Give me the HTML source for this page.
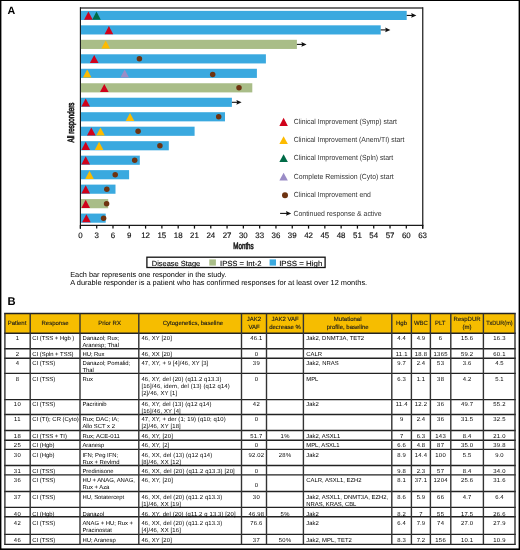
<!DOCTYPE html>
<html><head><meta charset="utf-8"><style>
html,body{margin:0;padding:0;background:#fff;}
svg{display:block;will-change:transform;}
svg text{font-family:"Liberation Sans", sans-serif;text-rendering:geometricPrecision;}
.t{letter-spacing:0.12px;}
</style></head><body>
<svg width="520" height="550" viewBox="0 0 520 550">
<rect width="520" height="550" fill="#fff"/>
<rect x="0" y="0" width="1.4" height="550" fill="#000"/>
<rect x="0" y="0" width="520" height="1.0" fill="#000"/>
<rect x="518.6" y="0" width="1.4" height="550" fill="#000"/>
<rect x="0" y="548.4" width="520" height="1.6" fill="#000"/>
<text x="7.60" y="14.00" font-size="10.7" fill="#000" font-weight="bold">A</text>
<text x="7.60" y="304.80" font-size="11.2" fill="#000" font-weight="bold">B</text>
<rect x="80.9" y="10.85" width="325.80" height="9.15" fill="#3aa9df"/>
<line x1="406.70" y1="15.43" x2="412.20" y2="15.43" stroke="#111" stroke-width="1.1"/>
<path d="M416.40 15.43L411.20 13.03L411.90 15.43L411.20 17.82Z" fill="#111"/>
<path d="M84.10 19.65L88.40 11.55L92.70 19.65Z" fill="#d0021b"/>
<path d="M92.20 19.65L96.50 11.55L100.80 19.65Z" fill="#006b47"/>
<rect x="80.9" y="25.33" width="299.80" height="9.15" fill="#3aa9df"/>
<line x1="380.70" y1="29.90" x2="386.20" y2="29.90" stroke="#111" stroke-width="1.1"/>
<path d="M390.40 29.90L385.20 27.50L385.90 29.90L385.20 32.30Z" fill="#111"/>
<path d="M104.60 34.13L108.90 26.03L113.20 34.13Z" fill="#d0021b"/>
<rect x="80.9" y="39.81" width="216.00" height="9.15" fill="#a9bd88"/>
<line x1="296.90" y1="44.39" x2="302.40" y2="44.39" stroke="#111" stroke-width="1.1"/>
<path d="M306.60 44.39L301.40 41.99L302.10 44.39L301.40 46.79Z" fill="#111"/>
<path d="M101.40 48.61L105.70 40.51L110.00 48.61Z" fill="#fdbb00"/>
<rect x="80.9" y="54.29" width="185.00" height="9.15" fill="#3aa9df"/>
<path d="M89.90 63.09L94.20 54.99L98.50 63.09Z" fill="#d0021b"/>
<circle cx="139.40" cy="58.87" r="2.75" fill="#6e3310"/>
<rect x="80.9" y="68.77" width="176.00" height="9.15" fill="#3aa9df"/>
<path d="M82.90 77.57L87.20 69.47L91.50 77.57Z" fill="#fdbb00"/>
<path d="M120.40 77.57L124.70 69.47L129.00 77.57Z" fill="#9a8cc6"/>
<circle cx="212.70" cy="74.44" r="2.75" fill="#6e3310"/>
<rect x="80.9" y="83.25" width="171.40" height="9.15" fill="#a9bd88"/>
<path d="M100.00 92.05L104.30 83.95L108.60 92.05Z" fill="#d0021b"/>
<circle cx="239.00" cy="87.83" r="2.75" fill="#6e3310"/>
<rect x="80.9" y="97.73" width="151.00" height="9.15" fill="#3aa9df"/>
<line x1="231.90" y1="102.30" x2="237.40" y2="102.30" stroke="#111" stroke-width="1.1"/>
<path d="M241.60 102.30L236.40 99.90L237.10 102.30L236.40 104.70Z" fill="#111"/>
<path d="M81.40 106.53L85.70 98.43L90.00 106.53Z" fill="#d0021b"/>
<rect x="80.9" y="112.21" width="144.10" height="9.15" fill="#3aa9df"/>
<path d="M125.70 121.01L130.00 112.91L134.30 121.01Z" fill="#fdbb00"/>
<circle cx="218.70" cy="116.78" r="2.75" fill="#6e3310"/>
<rect x="80.9" y="126.69" width="113.70" height="9.15" fill="#3aa9df"/>
<path d="M87.00 135.49L91.30 127.39L95.60 135.49Z" fill="#d0021b"/>
<path d="M96.20 135.49L100.50 127.39L104.80 135.49Z" fill="#fdbb00"/>
<circle cx="138.10" cy="131.26" r="2.75" fill="#6e3310"/>
<rect x="80.9" y="141.17" width="87.90" height="9.15" fill="#3aa9df"/>
<path d="M81.40 149.97L85.70 141.87L90.00 149.97Z" fill="#d0021b"/>
<path d="M94.80 149.97L99.10 141.87L103.40 149.97Z" fill="#fdbb00"/>
<circle cx="159.90" cy="145.74" r="2.75" fill="#6e3310"/>
<rect x="80.9" y="155.65" width="58.90" height="9.15" fill="#3aa9df"/>
<path d="M81.40 164.45L85.70 156.35L90.00 164.45Z" fill="#d0021b"/>
<circle cx="134.70" cy="160.22" r="2.75" fill="#6e3310"/>
<rect x="80.9" y="170.13" width="48.20" height="9.15" fill="#3aa9df"/>
<path d="M85.20 178.93L89.50 170.83L93.80 178.93Z" fill="#fdbb00"/>
<circle cx="115.20" cy="174.70" r="2.75" fill="#6e3310"/>
<rect x="80.9" y="184.61" width="34.60" height="9.15" fill="#3aa9df"/>
<path d="M81.40 193.41L85.70 185.31L90.00 193.41Z" fill="#d0021b"/>
<circle cx="106.80" cy="189.18" r="2.75" fill="#6e3310"/>
<rect x="80.9" y="199.09" width="27.30" height="9.15" fill="#a9bd88"/>
<path d="M81.40 207.89L85.70 199.79L90.00 207.89Z" fill="#d0021b"/>
<circle cx="106.60" cy="203.66" r="2.75" fill="#6e3310"/>
<rect x="80.9" y="213.57" width="24.80" height="9.15" fill="#3aa9df"/>
<path d="M82.10 222.37L86.40 214.27L90.70 222.37Z" fill="#d0021b"/>
<circle cx="103.60" cy="218.14" r="2.75" fill="#6e3310"/>
<line x1="80.4" y1="8" x2="422.8" y2="8" stroke="#444" stroke-width="1.5"/>
<line x1="422.75" y1="7.3" x2="422.75" y2="228.7" stroke="#1e1e1e" stroke-width="1.25"/>
<line x1="80.4" y1="7.3" x2="80.4" y2="228.7" stroke="#111" stroke-width="1.1"/>
<line x1="79.9" y1="225.4" x2="423.4" y2="225.4" stroke="#1a1a1a" stroke-width="1.2"/>
<line x1="80.40" y1="225.4" x2="80.40" y2="228.6" stroke="#111" stroke-width="1.25"/>
<text x="80.40" y="237.60" font-size="7.9" fill="#111" text-anchor="middle" stroke="#111" stroke-width="0.15">0</text>
<line x1="96.70" y1="225.4" x2="96.70" y2="228.6" stroke="#111" stroke-width="1.25"/>
<text x="96.70" y="237.60" font-size="7.9" fill="#111" text-anchor="middle" stroke="#111" stroke-width="0.15">3</text>
<line x1="112.99" y1="225.4" x2="112.99" y2="228.6" stroke="#111" stroke-width="1.25"/>
<text x="112.99" y="237.60" font-size="7.9" fill="#111" text-anchor="middle" stroke="#111" stroke-width="0.15">6</text>
<line x1="129.29" y1="225.4" x2="129.29" y2="228.6" stroke="#111" stroke-width="1.25"/>
<text x="129.29" y="237.60" font-size="7.9" fill="#111" text-anchor="middle" stroke="#111" stroke-width="0.15">9</text>
<line x1="145.58" y1="225.4" x2="145.58" y2="228.6" stroke="#111" stroke-width="1.25"/>
<text x="145.58" y="237.60" font-size="7.9" fill="#111" text-anchor="middle" stroke="#111" stroke-width="0.15">12</text>
<line x1="161.88" y1="225.4" x2="161.88" y2="228.6" stroke="#111" stroke-width="1.25"/>
<text x="161.88" y="237.60" font-size="7.9" fill="#111" text-anchor="middle" stroke="#111" stroke-width="0.15">15</text>
<line x1="178.18" y1="225.4" x2="178.18" y2="228.6" stroke="#111" stroke-width="1.25"/>
<text x="178.18" y="237.60" font-size="7.9" fill="#111" text-anchor="middle" stroke="#111" stroke-width="0.15">18</text>
<line x1="194.47" y1="225.4" x2="194.47" y2="228.6" stroke="#111" stroke-width="1.25"/>
<text x="194.47" y="237.60" font-size="7.9" fill="#111" text-anchor="middle" stroke="#111" stroke-width="0.15">21</text>
<line x1="210.77" y1="225.4" x2="210.77" y2="228.6" stroke="#111" stroke-width="1.25"/>
<text x="210.77" y="237.60" font-size="7.9" fill="#111" text-anchor="middle" stroke="#111" stroke-width="0.15">24</text>
<line x1="227.06" y1="225.4" x2="227.06" y2="228.6" stroke="#111" stroke-width="1.25"/>
<text x="227.06" y="237.60" font-size="7.9" fill="#111" text-anchor="middle" stroke="#111" stroke-width="0.15">27</text>
<line x1="243.36" y1="225.4" x2="243.36" y2="228.6" stroke="#111" stroke-width="1.25"/>
<text x="243.36" y="237.60" font-size="7.9" fill="#111" text-anchor="middle" stroke="#111" stroke-width="0.15">30</text>
<line x1="259.66" y1="225.4" x2="259.66" y2="228.6" stroke="#111" stroke-width="1.25"/>
<text x="259.66" y="237.60" font-size="7.9" fill="#111" text-anchor="middle" stroke="#111" stroke-width="0.15">33</text>
<line x1="275.95" y1="225.4" x2="275.95" y2="228.6" stroke="#111" stroke-width="1.25"/>
<text x="275.95" y="237.60" font-size="7.9" fill="#111" text-anchor="middle" stroke="#111" stroke-width="0.15">36</text>
<line x1="292.25" y1="225.4" x2="292.25" y2="228.6" stroke="#111" stroke-width="1.25"/>
<text x="292.25" y="237.60" font-size="7.9" fill="#111" text-anchor="middle" stroke="#111" stroke-width="0.15">39</text>
<line x1="308.54" y1="225.4" x2="308.54" y2="228.6" stroke="#111" stroke-width="1.25"/>
<text x="308.54" y="237.60" font-size="7.9" fill="#111" text-anchor="middle" stroke="#111" stroke-width="0.15">42</text>
<line x1="324.84" y1="225.4" x2="324.84" y2="228.6" stroke="#111" stroke-width="1.25"/>
<text x="324.84" y="237.60" font-size="7.9" fill="#111" text-anchor="middle" stroke="#111" stroke-width="0.15">45</text>
<line x1="341.14" y1="225.4" x2="341.14" y2="228.6" stroke="#111" stroke-width="1.25"/>
<text x="341.14" y="237.60" font-size="7.9" fill="#111" text-anchor="middle" stroke="#111" stroke-width="0.15">48</text>
<line x1="357.43" y1="225.4" x2="357.43" y2="228.6" stroke="#111" stroke-width="1.25"/>
<text x="357.43" y="237.60" font-size="7.9" fill="#111" text-anchor="middle" stroke="#111" stroke-width="0.15">51</text>
<line x1="373.73" y1="225.4" x2="373.73" y2="228.6" stroke="#111" stroke-width="1.25"/>
<text x="373.73" y="237.60" font-size="7.9" fill="#111" text-anchor="middle" stroke="#111" stroke-width="0.15">54</text>
<line x1="390.02" y1="225.4" x2="390.02" y2="228.6" stroke="#111" stroke-width="1.25"/>
<text x="390.02" y="237.60" font-size="7.9" fill="#111" text-anchor="middle" stroke="#111" stroke-width="0.15">57</text>
<line x1="406.32" y1="225.4" x2="406.32" y2="228.6" stroke="#111" stroke-width="1.25"/>
<text x="406.32" y="237.60" font-size="7.9" fill="#111" text-anchor="middle" stroke="#111" stroke-width="0.15">60</text>
<line x1="422.62" y1="225.4" x2="422.62" y2="228.6" stroke="#111" stroke-width="1.25"/>
<text x="422.62" y="237.60" font-size="7.9" fill="#111" text-anchor="middle" stroke="#111" stroke-width="0.15">63</text>
<text x="233.30" y="248.70" font-size="9.2" textLength="20.40" lengthAdjust="spacingAndGlyphs" stroke="#222" stroke-width="0.6">Months</text>
<text x="0" y="0" font-size="9.2" fill="#222" stroke="#222" stroke-width="0.7" textLength="40" lengthAdjust="spacingAndGlyphs" transform="translate(73.8 142.5) rotate(-90)">All responders</text>
<path d="M279.35 125.90L283.60 117.70L287.85 125.90Z" fill="#d0021b"/>
<text x="293.70" y="123.50" font-size="7.4" fill="#333" textLength="103.20" lengthAdjust="spacingAndGlyphs">Clinical Improvement (Symp) start</text>
<path d="M279.35 144.00L283.60 136.30L287.85 144.00Z" fill="#fdbb00"/>
<text x="293.70" y="141.60" font-size="7.4" fill="#333" textLength="110.80" lengthAdjust="spacingAndGlyphs">Clinical Improvement (Anem/TI) start</text>
<path d="M279.35 162.00L283.60 154.30L287.85 162.00Z" fill="#006b47"/>
<text x="293.70" y="160.20" font-size="7.4" fill="#333" textLength="99.60" lengthAdjust="spacingAndGlyphs">Clinical Improvement (Spln) start</text>
<path d="M279.35 180.50L283.60 172.70L287.85 180.50Z" fill="#9a8cc6"/>
<text x="293.70" y="178.60" font-size="7.4" fill="#333" textLength="100.10" lengthAdjust="spacingAndGlyphs">Complete Remission (Cyto) start</text>
<circle cx="285" cy="195.3" r="3" fill="#6e3310"/>
<text x="293.70" y="197.40" font-size="7.4" fill="#333" textLength="77.10" lengthAdjust="spacingAndGlyphs">Clinical Improvement end</text>
<line x1="280.10" y1="213.40" x2="287.00" y2="213.40" stroke="#111" stroke-width="1.1"/>
<path d="M291.20 213.40L286.00 211.00L286.70 213.40L286.00 215.80Z" fill="#111"/>
<text x="293.50" y="215.80" font-size="7.4" fill="#333" textLength="88.10" lengthAdjust="spacingAndGlyphs">Continued response &amp; active</text>
<rect x="146.9" y="257.2" width="178.2" height="10.3" fill="none" stroke="#111" stroke-width="1.3"/>
<text x="151.80" y="265.60" font-size="7.4" textLength="48.40" lengthAdjust="spacingAndGlyphs" stroke="#222" stroke-width="0.12">Disease Stage</text>
<rect x="209.3" y="259.4" width="6.6" height="6.2" fill="#a9bd88"/>
<text x="220.00" y="265.60" font-size="7.4" textLength="41.50" lengthAdjust="spacingAndGlyphs" stroke="#222" stroke-width="0.12">IPSS = Int-2</text>
<rect x="269.6" y="259.4" width="6.4" height="6.2" fill="#3aa9df"/>
<text x="279.20" y="265.60" font-size="7.4" textLength="43.10" lengthAdjust="spacingAndGlyphs" stroke="#222" stroke-width="0.12">IPSS = High</text>
<text x="70.20" y="276.80" font-size="7.35" textLength="156.30" lengthAdjust="spacingAndGlyphs">Each bar represents one responder in the study.</text>
<text x="70.20" y="284.80" font-size="7.35" textLength="297.00" lengthAdjust="spacingAndGlyphs">A durable responder is a patient who has confirmed responses for at least over 12 months.</text>
<rect x="4.9" y="313.5" width="510.10" height="19.70" fill="#f6bd00"/>
<line x1="4.15" y1="313.5" x2="515.75" y2="313.5" stroke="#222" stroke-width="1.4"/>
<line x1="4.15" y1="333.2" x2="515.75" y2="333.2" stroke="#222" stroke-width="1.4"/>
<line x1="4.15" y1="348.8" x2="515.75" y2="348.8" stroke="#222" stroke-width="1.4"/>
<line x1="4.15" y1="358.2" x2="515.75" y2="358.2" stroke="#222" stroke-width="1.4"/>
<line x1="4.15" y1="373.4" x2="515.75" y2="373.4" stroke="#222" stroke-width="1.4"/>
<line x1="4.15" y1="399.6" x2="515.75" y2="399.6" stroke="#222" stroke-width="1.4"/>
<line x1="4.15" y1="414.5" x2="515.75" y2="414.5" stroke="#222" stroke-width="1.4"/>
<line x1="4.15" y1="430.5" x2="515.75" y2="430.5" stroke="#222" stroke-width="1.4"/>
<line x1="4.15" y1="440.3" x2="515.75" y2="440.3" stroke="#222" stroke-width="1.4"/>
<line x1="4.15" y1="449.4" x2="515.75" y2="449.4" stroke="#222" stroke-width="1.4"/>
<line x1="4.15" y1="465.5" x2="515.75" y2="465.5" stroke="#222" stroke-width="1.4"/>
<line x1="4.15" y1="474.9" x2="515.75" y2="474.9" stroke="#222" stroke-width="1.4"/>
<line x1="4.15" y1="491.5" x2="515.75" y2="491.5" stroke="#222" stroke-width="1.4"/>
<line x1="4.15" y1="507.4" x2="515.75" y2="507.4" stroke="#222" stroke-width="1.4"/>
<line x1="4.15" y1="516.8" x2="515.75" y2="516.8" stroke="#222" stroke-width="1.4"/>
<line x1="4.15" y1="534.4" x2="515.75" y2="534.4" stroke="#222" stroke-width="1.4"/>
<line x1="4.15" y1="544.4" x2="515.75" y2="544.4" stroke="#222" stroke-width="1.4"/>
<line x1="4.9" y1="313.5" x2="4.9" y2="544.4" stroke="#333" stroke-width="1.4"/>
<line x1="30.2" y1="313.5" x2="30.2" y2="544.4" stroke="#333" stroke-width="1.4"/>
<line x1="80.0" y1="313.5" x2="80.0" y2="544.4" stroke="#333" stroke-width="1.4"/>
<line x1="138.8" y1="313.5" x2="138.8" y2="544.4" stroke="#333" stroke-width="1.4"/>
<line x1="241.5" y1="313.5" x2="241.5" y2="544.4" stroke="#333" stroke-width="1.4"/>
<line x1="266.5" y1="313.5" x2="266.5" y2="544.4" stroke="#333" stroke-width="1.4"/>
<line x1="303.4" y1="313.5" x2="303.4" y2="544.4" stroke="#333" stroke-width="1.4"/>
<line x1="391.8" y1="313.5" x2="391.8" y2="544.4" stroke="#333" stroke-width="1.4"/>
<line x1="411.4" y1="313.5" x2="411.4" y2="544.4" stroke="#333" stroke-width="1.4"/>
<line x1="430.4" y1="313.5" x2="430.4" y2="544.4" stroke="#333" stroke-width="1.4"/>
<line x1="450.8" y1="313.5" x2="450.8" y2="544.4" stroke="#333" stroke-width="1.4"/>
<line x1="483.4" y1="313.5" x2="483.4" y2="544.4" stroke="#333" stroke-width="1.4"/>
<line x1="515.0" y1="313.5" x2="515.0" y2="544.4" stroke="#333" stroke-width="1.4"/>
<text x="17.00" y="325.00" font-size="6.0" fill="#1a1a1a" text-anchor="middle" stroke="#1a1a1a" stroke-width="0.12">Patient</text>
<text x="55.00" y="325.00" font-size="6.0" fill="#1a1a1a" text-anchor="middle" stroke="#1a1a1a" stroke-width="0.12">Response</text>
<text x="109.60" y="325.00" font-size="6.0" fill="#1a1a1a" text-anchor="middle" stroke="#1a1a1a" stroke-width="0.12">Prior RX</text>
<text x="192.90" y="325.00" font-size="6.0" fill="#1a1a1a" text-anchor="middle" stroke="#1a1a1a" stroke-width="0.12">Cytogenetics, baseline</text>
<text x="254.00" y="321.30" font-size="6.0" fill="#1a1a1a" text-anchor="middle" stroke="#1a1a1a" stroke-width="0.12">JAK2</text>
<text x="254.00" y="328.50" font-size="6.0" fill="#1a1a1a" text-anchor="middle" stroke="#1a1a1a" stroke-width="0.12">VAF</text>
<text x="285.00" y="321.30" font-size="6.0" fill="#1a1a1a" text-anchor="middle" stroke="#1a1a1a" stroke-width="0.12">JAK2 VAF</text>
<text x="285.00" y="328.50" font-size="6.0" fill="#1a1a1a" text-anchor="middle" stroke="#1a1a1a" stroke-width="0.12">decrease %</text>
<text x="347.70" y="321.30" font-size="6.0" fill="#1a1a1a" text-anchor="middle" stroke="#1a1a1a" stroke-width="0.12">Mutational</text>
<text x="347.70" y="328.50" font-size="6.0" fill="#1a1a1a" text-anchor="middle" stroke="#1a1a1a" stroke-width="0.12">profile, baseline</text>
<text x="401.50" y="325.00" font-size="6.0" fill="#1a1a1a" text-anchor="middle" stroke="#1a1a1a" stroke-width="0.12">Hgb</text>
<text x="420.90" y="325.00" font-size="6.0" fill="#1a1a1a" text-anchor="middle" stroke="#1a1a1a" stroke-width="0.12">WBC</text>
<text x="440.20" y="325.00" font-size="6.0" fill="#1a1a1a" text-anchor="middle" stroke="#1a1a1a" stroke-width="0.12">PLT</text>
<text x="467.10" y="321.30" font-size="6.0" fill="#1a1a1a" text-anchor="middle" stroke="#1a1a1a" stroke-width="0.12">RespDUR</text>
<text x="467.10" y="328.50" font-size="6.0" fill="#1a1a1a" text-anchor="middle" stroke="#1a1a1a" stroke-width="0.12">(m)</text>
<text x="499.40" y="325.00" font-size="6.0" fill="#1a1a1a" text-anchor="middle" textLength="26.40" lengthAdjust="spacingAndGlyphs" stroke="#1a1a1a" stroke-width="0.12">TxDUR(m)</text>
<text x="17.30" y="339.80" font-size="5.9" text-anchor="middle">1</text>
<text x="32.20" y="339.80" font-size="5.9" textLength="42.09" lengthAdjust="spacing">CI (TSS + Hgb )</text>
<text x="82.40" y="339.80" font-size="5.9" textLength="36.98" lengthAdjust="spacing">Danazol; Rux;</text>
<text x="82.40" y="346.85" font-size="5.9" textLength="36.54" lengthAdjust="spacing">Aranesp; Thal</text>
<text x="141.40" y="339.80" font-size="5.9" textLength="30.41" lengthAdjust="spacing">46, XY [20]</text>
<text x="256.30" y="339.80" font-size="5.9" text-anchor="middle" textLength="12.08" lengthAdjust="spacing">46.1</text>
<text x="306.30" y="339.80" font-size="5.9" textLength="57.83" lengthAdjust="spacing">Jak2, DNMT3A, TET2</text>
<text x="401.60" y="339.80" font-size="5.9" text-anchor="middle" textLength="8.50" lengthAdjust="spacing">4.4</text>
<text x="420.90" y="339.80" font-size="5.9" text-anchor="middle" textLength="8.50" lengthAdjust="spacing">4.9</text>
<text x="440.50" y="339.80" font-size="5.9" text-anchor="middle">6</text>
<text x="467.10" y="339.80" font-size="5.9" text-anchor="middle" textLength="12.08" lengthAdjust="spacing">15.6</text>
<text x="499.40" y="339.80" font-size="5.9" text-anchor="middle" textLength="12.08" lengthAdjust="spacing">16.3</text>
<text x="17.30" y="356.20" font-size="5.9" text-anchor="middle">2</text>
<text x="32.20" y="356.20" font-size="5.9" textLength="41.33" lengthAdjust="spacing">CI (Spln + TSS)</text>
<text x="82.40" y="356.20" font-size="5.9" textLength="22.17" lengthAdjust="spacing">HU; Rux</text>
<text x="141.40" y="356.20" font-size="5.9" textLength="30.51" lengthAdjust="spacing">46, XX [20]</text>
<text x="256.30" y="356.20" font-size="5.9" text-anchor="middle">0</text>
<text x="306.30" y="356.20" font-size="5.9" textLength="15.62" lengthAdjust="spacing">CALR</text>
<text x="401.60" y="356.20" font-size="5.9" text-anchor="middle" textLength="11.65" lengthAdjust="spacing">11.1</text>
<text x="420.90" y="356.20" font-size="5.9" text-anchor="middle" textLength="12.08" lengthAdjust="spacing">18.8</text>
<text x="440.50" y="356.20" font-size="5.9" text-anchor="middle" textLength="14.03" lengthAdjust="spacing">1365</text>
<text x="467.10" y="356.20" font-size="5.9" text-anchor="middle" textLength="12.08" lengthAdjust="spacing">59.2</text>
<text x="499.40" y="356.20" font-size="5.9" text-anchor="middle" textLength="12.08" lengthAdjust="spacing">60.1</text>
<text x="17.30" y="365.40" font-size="5.9" text-anchor="middle">4</text>
<text x="32.20" y="365.40" font-size="5.9" textLength="22.94" lengthAdjust="spacing">CI (TSS)</text>
<text x="82.40" y="365.40" font-size="5.9" textLength="47.80" lengthAdjust="spacing">Danazol; Pomalid;</text>
<text x="82.40" y="372.45" font-size="5.9" textLength="11.44" lengthAdjust="spacing">Thal</text>
<text x="141.40" y="365.40" font-size="5.9" textLength="66.78" lengthAdjust="spacing">47, XY, + 9 [4]/46, XY [3]</text>
<text x="256.30" y="365.40" font-size="5.9" text-anchor="middle" textLength="6.86" lengthAdjust="spacing">39</text>
<text x="306.30" y="365.40" font-size="5.9" textLength="32.27" lengthAdjust="spacing">Jak2, NRAS</text>
<text x="401.60" y="365.40" font-size="5.9" text-anchor="middle" textLength="8.50" lengthAdjust="spacing">9.7</text>
<text x="420.90" y="365.40" font-size="5.9" text-anchor="middle" textLength="8.50" lengthAdjust="spacing">2.4</text>
<text x="440.50" y="365.40" font-size="5.9" text-anchor="middle" textLength="6.86" lengthAdjust="spacing">53</text>
<text x="467.10" y="365.40" font-size="5.9" text-anchor="middle" textLength="8.50" lengthAdjust="spacing">3.6</text>
<text x="499.40" y="365.40" font-size="5.9" text-anchor="middle" textLength="8.50" lengthAdjust="spacing">4.5</text>
<text x="17.30" y="381.20" font-size="5.9" text-anchor="middle">8</text>
<text x="32.20" y="381.20" font-size="5.9" textLength="22.94" lengthAdjust="spacing">CI (TSS)</text>
<text x="82.40" y="381.20" font-size="5.9" textLength="10.45" lengthAdjust="spacing">Rux</text>
<text x="141.40" y="381.20" font-size="5.9" textLength="80.05" lengthAdjust="spacing">46, XY, del (20) (q11.2 q13.3)</text>
<text x="141.40" y="388.25" font-size="5.9" textLength="88.29" lengthAdjust="spacing">[16]/46, idem, del (13) (q12 q14)</text>
<text x="141.40" y="395.30" font-size="5.9" textLength="35.72" lengthAdjust="spacing">[2]/46, XY [1]</text>
<text x="256.30" y="381.20" font-size="5.9" text-anchor="middle">0</text>
<text x="306.30" y="381.20" font-size="5.9" textLength="12.05" lengthAdjust="spacing">MPL</text>
<text x="401.60" y="381.20" font-size="5.9" text-anchor="middle" textLength="8.50" lengthAdjust="spacing">6.3</text>
<text x="420.90" y="381.20" font-size="5.9" text-anchor="middle" textLength="8.50" lengthAdjust="spacing">1.1</text>
<text x="440.50" y="381.20" font-size="5.9" text-anchor="middle" textLength="6.86" lengthAdjust="spacing">38</text>
<text x="467.10" y="381.20" font-size="5.9" text-anchor="middle" textLength="8.50" lengthAdjust="spacing">4.2</text>
<text x="499.40" y="381.20" font-size="5.9" text-anchor="middle" textLength="8.50" lengthAdjust="spacing">5.1</text>
<text x="17.30" y="406.40" font-size="5.9" text-anchor="middle" textLength="6.86" lengthAdjust="spacing">10</text>
<text x="32.20" y="406.40" font-size="5.9" textLength="22.94" lengthAdjust="spacing">CI (TSS)</text>
<text x="82.40" y="406.40" font-size="5.9" textLength="24.23" lengthAdjust="spacing">Pacritinib</text>
<text x="141.40" y="406.40" font-size="5.9" textLength="70.05" lengthAdjust="spacing">46, XY, del (13) (q12 q14)</text>
<text x="141.40" y="413.45" font-size="5.9" textLength="39.30" lengthAdjust="spacing">[16]/46, XY [4]</text>
<text x="256.30" y="406.40" font-size="5.9" text-anchor="middle" textLength="6.86" lengthAdjust="spacing">42</text>
<text x="306.30" y="406.40" font-size="5.9" textLength="12.42" lengthAdjust="spacing">Jak2</text>
<text x="401.60" y="406.40" font-size="5.9" text-anchor="middle" textLength="11.65" lengthAdjust="spacing">11.4</text>
<text x="420.90" y="406.40" font-size="5.9" text-anchor="middle" textLength="12.08" lengthAdjust="spacing">12.2</text>
<text x="440.50" y="406.40" font-size="5.9" text-anchor="middle" textLength="6.86" lengthAdjust="spacing">36</text>
<text x="467.10" y="406.40" font-size="5.9" text-anchor="middle" textLength="12.08" lengthAdjust="spacing">49.7</text>
<text x="499.40" y="406.40" font-size="5.9" text-anchor="middle" textLength="12.08" lengthAdjust="spacing">55.2</text>
<text x="17.30" y="421.30" font-size="5.9" text-anchor="middle" textLength="6.42" lengthAdjust="spacing">11</text>
<text x="32.20" y="421.30" font-size="5.9" textLength="46.53" lengthAdjust="spacing">CI (TI); CR (Cyto)</text>
<text x="82.40" y="421.30" font-size="5.9" textLength="36.48" lengthAdjust="spacing">Rux; DAC; IA;</text>
<text x="82.40" y="428.35" font-size="5.9" textLength="32.52" lengthAdjust="spacing">Allo SCT x 2</text>
<text x="141.40" y="421.30" font-size="5.9" textLength="84.29" lengthAdjust="spacing">47, XY, + der (1; 19) (q10; q10)</text>
<text x="141.40" y="428.35" font-size="5.9" textLength="39.30" lengthAdjust="spacing">[2]/46, XY [18]</text>
<text x="256.30" y="421.30" font-size="5.9" text-anchor="middle">0</text>
<text x="401.60" y="421.30" font-size="5.9" text-anchor="middle">9</text>
<text x="420.90" y="421.30" font-size="5.9" text-anchor="middle" textLength="8.50" lengthAdjust="spacing">2.4</text>
<text x="440.50" y="421.30" font-size="5.9" text-anchor="middle" textLength="6.86" lengthAdjust="spacing">36</text>
<text x="467.10" y="421.30" font-size="5.9" text-anchor="middle" textLength="12.08" lengthAdjust="spacing">31.5</text>
<text x="499.40" y="421.30" font-size="5.9" text-anchor="middle" textLength="12.08" lengthAdjust="spacing">32.5</text>
<text x="17.30" y="437.90" font-size="5.9" text-anchor="middle" textLength="6.86" lengthAdjust="spacing">18</text>
<text x="32.20" y="437.90" font-size="5.9" textLength="34.72" lengthAdjust="spacing">CI (TSS + TI)</text>
<text x="82.40" y="437.90" font-size="5.9" textLength="37.39" lengthAdjust="spacing">Rux; ACE-011</text>
<text x="141.40" y="437.90" font-size="5.9" textLength="31.39" lengthAdjust="spacing">46, XY, [20]</text>
<text x="256.30" y="437.90" font-size="5.9" text-anchor="middle" textLength="12.08" lengthAdjust="spacing">51.7</text>
<text x="285.00" y="437.90" font-size="5.9" text-anchor="middle" textLength="8.83" lengthAdjust="spacing">1%</text>
<text x="306.30" y="437.90" font-size="5.9" textLength="33.88" lengthAdjust="spacing">Jak2, ASXL1</text>
<text x="401.60" y="437.90" font-size="5.9" text-anchor="middle">7</text>
<text x="420.90" y="437.90" font-size="5.9" text-anchor="middle" textLength="8.50" lengthAdjust="spacing">6.3</text>
<text x="440.50" y="437.90" font-size="5.9" text-anchor="middle" textLength="10.44" lengthAdjust="spacing">143</text>
<text x="467.10" y="437.90" font-size="5.9" text-anchor="middle" textLength="8.50" lengthAdjust="spacing">8.4</text>
<text x="499.40" y="437.90" font-size="5.9" text-anchor="middle" textLength="12.08" lengthAdjust="spacing">21.0</text>
<text x="17.30" y="446.80" font-size="5.9" text-anchor="middle" textLength="6.86" lengthAdjust="spacing">25</text>
<text x="32.20" y="446.80" font-size="5.9" textLength="22.37" lengthAdjust="spacing">CI (Hgb)</text>
<text x="82.40" y="446.80" font-size="5.9" textLength="21.94" lengthAdjust="spacing">Aranesp</text>
<text x="141.40" y="446.80" font-size="5.9" textLength="27.81" lengthAdjust="spacing">46, XY, [2]</text>
<text x="256.30" y="446.80" font-size="5.9" text-anchor="middle">0</text>
<text x="306.30" y="446.80" font-size="5.9" textLength="33.17" lengthAdjust="spacing">MPL, ASXL1</text>
<text x="401.60" y="446.80" font-size="5.9" text-anchor="middle" textLength="8.50" lengthAdjust="spacing">6.6</text>
<text x="420.90" y="446.80" font-size="5.9" text-anchor="middle" textLength="8.50" lengthAdjust="spacing">4.8</text>
<text x="440.50" y="446.80" font-size="5.9" text-anchor="middle" textLength="6.86" lengthAdjust="spacing">87</text>
<text x="467.10" y="446.80" font-size="5.9" text-anchor="middle" textLength="12.08" lengthAdjust="spacing">35.0</text>
<text x="499.40" y="446.80" font-size="5.9" text-anchor="middle" textLength="12.08" lengthAdjust="spacing">39.8</text>
<text x="17.30" y="456.60" font-size="5.9" text-anchor="middle" textLength="6.86" lengthAdjust="spacing">30</text>
<text x="32.20" y="456.60" font-size="5.9" textLength="22.37" lengthAdjust="spacing">CI (Hgb)</text>
<text x="82.40" y="456.60" font-size="5.9" textLength="35.78" lengthAdjust="spacing">IFN; Peg IFN;</text>
<text x="82.40" y="463.65" font-size="5.9" textLength="37.14" lengthAdjust="spacing">Rux + Revlmd</text>
<text x="141.40" y="456.60" font-size="5.9" textLength="70.81" lengthAdjust="spacing">46, XX, del (13) (q12 q14)</text>
<text x="141.40" y="463.65" font-size="5.9" textLength="39.41" lengthAdjust="spacing">[8]/46, XX [12]</text>
<text x="256.30" y="456.60" font-size="5.9" text-anchor="middle" textLength="15.66" lengthAdjust="spacing">92.02</text>
<text x="285.00" y="456.60" font-size="5.9" text-anchor="middle" textLength="12.41" lengthAdjust="spacing">28%</text>
<text x="306.30" y="456.60" font-size="5.9" textLength="12.42" lengthAdjust="spacing">Jak2</text>
<text x="401.60" y="456.60" font-size="5.9" text-anchor="middle" textLength="8.50" lengthAdjust="spacing">8.9</text>
<text x="420.90" y="456.60" font-size="5.9" text-anchor="middle" textLength="12.08" lengthAdjust="spacing">14.4</text>
<text x="440.50" y="456.60" font-size="5.9" text-anchor="middle" textLength="10.44" lengthAdjust="spacing">100</text>
<text x="467.10" y="456.60" font-size="5.9" text-anchor="middle" textLength="8.50" lengthAdjust="spacing">5.5</text>
<text x="499.40" y="456.60" font-size="5.9" text-anchor="middle" textLength="8.50" lengthAdjust="spacing">9.0</text>
<text x="17.30" y="472.70" font-size="5.9" text-anchor="middle" textLength="6.86" lengthAdjust="spacing">31</text>
<text x="32.20" y="472.70" font-size="5.9" textLength="22.94" lengthAdjust="spacing">CI (TSS)</text>
<text x="82.40" y="472.70" font-size="5.9" textLength="31.12" lengthAdjust="spacing">Predinisone</text>
<text x="141.40" y="472.70" font-size="5.9" textLength="93.29" lengthAdjust="spacing">46, XX, del (20) (q11.2 q13.3) [20]</text>
<text x="256.30" y="472.70" font-size="5.9" text-anchor="middle">0</text>
<text x="401.60" y="472.70" font-size="5.9" text-anchor="middle" textLength="8.50" lengthAdjust="spacing">9.8</text>
<text x="420.90" y="472.70" font-size="5.9" text-anchor="middle" textLength="8.50" lengthAdjust="spacing">2.3</text>
<text x="440.50" y="472.70" font-size="5.9" text-anchor="middle" textLength="6.86" lengthAdjust="spacing">57</text>
<text x="467.10" y="472.70" font-size="5.9" text-anchor="middle" textLength="8.50" lengthAdjust="spacing">8.4</text>
<text x="499.40" y="472.70" font-size="5.9" text-anchor="middle" textLength="12.08" lengthAdjust="spacing">34.0</text>
<text x="17.30" y="482.00" font-size="5.9" text-anchor="middle" textLength="6.86" lengthAdjust="spacing">36</text>
<text x="32.20" y="482.00" font-size="5.9" textLength="22.94" lengthAdjust="spacing">CI (TSS)</text>
<text x="82.40" y="482.00" font-size="5.9" textLength="52.55" lengthAdjust="spacing">HU + ANAG, ANAG,</text>
<text x="82.40" y="489.05" font-size="5.9" textLength="26.98" lengthAdjust="spacing">Rux + Aza</text>
<text x="141.40" y="482.00" font-size="5.9" textLength="31.39" lengthAdjust="spacing">46, XY, [20]</text>
<text x="256.30" y="487.40" font-size="5.9" text-anchor="middle">0</text>
<text x="306.30" y="482.00" font-size="5.9" textLength="55.28" lengthAdjust="spacing">CALR, ASXL1, EZH2</text>
<text x="401.60" y="482.00" font-size="5.9" text-anchor="middle" textLength="8.50" lengthAdjust="spacing">8.1</text>
<text x="420.90" y="482.00" font-size="5.9" text-anchor="middle" textLength="12.08" lengthAdjust="spacing">37.1</text>
<text x="440.50" y="482.00" font-size="5.9" text-anchor="middle" textLength="14.03" lengthAdjust="spacing">1204</text>
<text x="467.10" y="482.00" font-size="5.9" text-anchor="middle" textLength="12.08" lengthAdjust="spacing">25.6</text>
<text x="499.40" y="482.00" font-size="5.9" text-anchor="middle" textLength="12.08" lengthAdjust="spacing">31.6</text>
<text x="17.30" y="499.10" font-size="5.9" text-anchor="middle" textLength="6.86" lengthAdjust="spacing">37</text>
<text x="32.20" y="499.10" font-size="5.9" textLength="22.94" lengthAdjust="spacing">CI (TSS)</text>
<text x="82.40" y="499.10" font-size="5.9" textLength="41.85" lengthAdjust="spacing">HU, Sotatercept</text>
<text x="141.40" y="499.10" font-size="5.9" textLength="80.81" lengthAdjust="spacing">46, XX, del (20) (q11.2 q13.3)</text>
<text x="141.40" y="506.15" font-size="5.9" textLength="39.41" lengthAdjust="spacing">[1]/46, XX [19]</text>
<text x="256.30" y="499.10" font-size="5.9" text-anchor="middle" textLength="6.86" lengthAdjust="spacing">30</text>
<text x="306.30" y="499.10" font-size="5.9" textLength="82.00" lengthAdjust="spacing">Jak2, ASXL1, DNMT3A, EZH2,</text>
<text x="306.30" y="506.15" font-size="5.9" textLength="50.09" lengthAdjust="spacing">NRAS, KRAS, CBL</text>
<text x="401.60" y="499.10" font-size="5.9" text-anchor="middle" textLength="8.50" lengthAdjust="spacing">8.6</text>
<text x="420.90" y="499.10" font-size="5.9" text-anchor="middle" textLength="8.50" lengthAdjust="spacing">5.9</text>
<text x="440.50" y="499.10" font-size="5.9" text-anchor="middle" textLength="6.86" lengthAdjust="spacing">66</text>
<text x="467.10" y="499.10" font-size="5.9" text-anchor="middle" textLength="8.50" lengthAdjust="spacing">4.7</text>
<text x="499.40" y="499.10" font-size="5.9" text-anchor="middle" textLength="8.50" lengthAdjust="spacing">6.4</text>
<text x="17.30" y="515.50" font-size="5.9" text-anchor="middle" textLength="6.86" lengthAdjust="spacing">40</text>
<text x="32.20" y="515.50" font-size="5.9" textLength="22.37" lengthAdjust="spacing">CI (Hgb)</text>
<text x="82.40" y="515.50" font-size="5.9" textLength="21.61" lengthAdjust="spacing">Danazol</text>
<text x="141.40" y="515.50" font-size="5.9" textLength="94.17" lengthAdjust="spacing">46, XY, del (20) (q11.2 q 13.3) [20]</text>
<text x="256.30" y="515.50" font-size="5.9" text-anchor="middle" textLength="15.66" lengthAdjust="spacing">46.98</text>
<text x="285.00" y="515.50" font-size="5.9" text-anchor="middle" textLength="8.83" lengthAdjust="spacing">5%</text>
<text x="306.30" y="515.50" font-size="5.9" textLength="12.42" lengthAdjust="spacing">Jak2</text>
<text x="401.60" y="515.50" font-size="5.9" text-anchor="middle" textLength="8.50" lengthAdjust="spacing">8.2</text>
<text x="420.90" y="515.50" font-size="5.9" text-anchor="middle">7</text>
<text x="440.50" y="515.50" font-size="5.9" text-anchor="middle" textLength="6.86" lengthAdjust="spacing">55</text>
<text x="467.10" y="515.50" font-size="5.9" text-anchor="middle" textLength="12.08" lengthAdjust="spacing">17.5</text>
<text x="499.40" y="515.50" font-size="5.9" text-anchor="middle" textLength="12.08" lengthAdjust="spacing">26.6</text>
<text x="17.30" y="524.60" font-size="5.9" text-anchor="middle" textLength="6.86" lengthAdjust="spacing">42</text>
<text x="32.20" y="524.60" font-size="5.9" textLength="22.94" lengthAdjust="spacing">CI (TSS)</text>
<text x="82.40" y="524.60" font-size="5.9" textLength="50.54" lengthAdjust="spacing">ANAG + HU; Rux +</text>
<text x="82.40" y="531.65" font-size="5.9" textLength="29.47" lengthAdjust="spacing">Pracinostat</text>
<text x="141.40" y="524.60" font-size="5.9" textLength="80.81" lengthAdjust="spacing">46, XX, del (20) (q11.2 q13.3)</text>
<text x="141.40" y="531.65" font-size="5.9" textLength="39.41" lengthAdjust="spacing">[4]/46, XX [16]</text>
<text x="256.30" y="524.60" font-size="5.9" text-anchor="middle" textLength="12.08" lengthAdjust="spacing">76.6</text>
<text x="306.30" y="524.60" font-size="5.9" textLength="12.42" lengthAdjust="spacing">Jak2</text>
<text x="401.60" y="524.60" font-size="5.9" text-anchor="middle" textLength="8.50" lengthAdjust="spacing">6.4</text>
<text x="420.90" y="524.60" font-size="5.9" text-anchor="middle" textLength="8.50" lengthAdjust="spacing">7.9</text>
<text x="440.50" y="524.60" font-size="5.9" text-anchor="middle" textLength="6.86" lengthAdjust="spacing">74</text>
<text x="467.10" y="524.60" font-size="5.9" text-anchor="middle" textLength="12.08" lengthAdjust="spacing">27.0</text>
<text x="499.40" y="524.60" font-size="5.9" text-anchor="middle" textLength="12.08" lengthAdjust="spacing">27.9</text>
<text x="17.30" y="541.90" font-size="5.9" text-anchor="middle" textLength="6.86" lengthAdjust="spacing">46</text>
<text x="32.20" y="541.90" font-size="5.9" textLength="22.94" lengthAdjust="spacing">CI (TSS)</text>
<text x="82.40" y="541.90" font-size="5.9" textLength="33.33" lengthAdjust="spacing">HU; Aranesp</text>
<text x="141.40" y="541.90" font-size="5.9" textLength="30.41" lengthAdjust="spacing">46, XY [20]</text>
<text x="256.30" y="541.90" font-size="5.9" text-anchor="middle" textLength="6.86" lengthAdjust="spacing">37</text>
<text x="285.00" y="541.90" font-size="5.9" text-anchor="middle" textLength="12.41" lengthAdjust="spacing">50%</text>
<text x="306.30" y="541.90" font-size="5.9" textLength="45.49" lengthAdjust="spacing">Jak2, MPL, TET2</text>
<text x="401.60" y="541.90" font-size="5.9" text-anchor="middle" textLength="8.50" lengthAdjust="spacing">8.3</text>
<text x="420.90" y="541.90" font-size="5.9" text-anchor="middle" textLength="8.50" lengthAdjust="spacing">7.2</text>
<text x="440.50" y="541.90" font-size="5.9" text-anchor="middle" textLength="10.44" lengthAdjust="spacing">156</text>
<text x="467.10" y="541.90" font-size="5.9" text-anchor="middle" textLength="12.08" lengthAdjust="spacing">10.1</text>
<text x="499.40" y="541.90" font-size="5.9" text-anchor="middle" textLength="12.08" lengthAdjust="spacing">10.9</text>
</svg>
</body></html>
